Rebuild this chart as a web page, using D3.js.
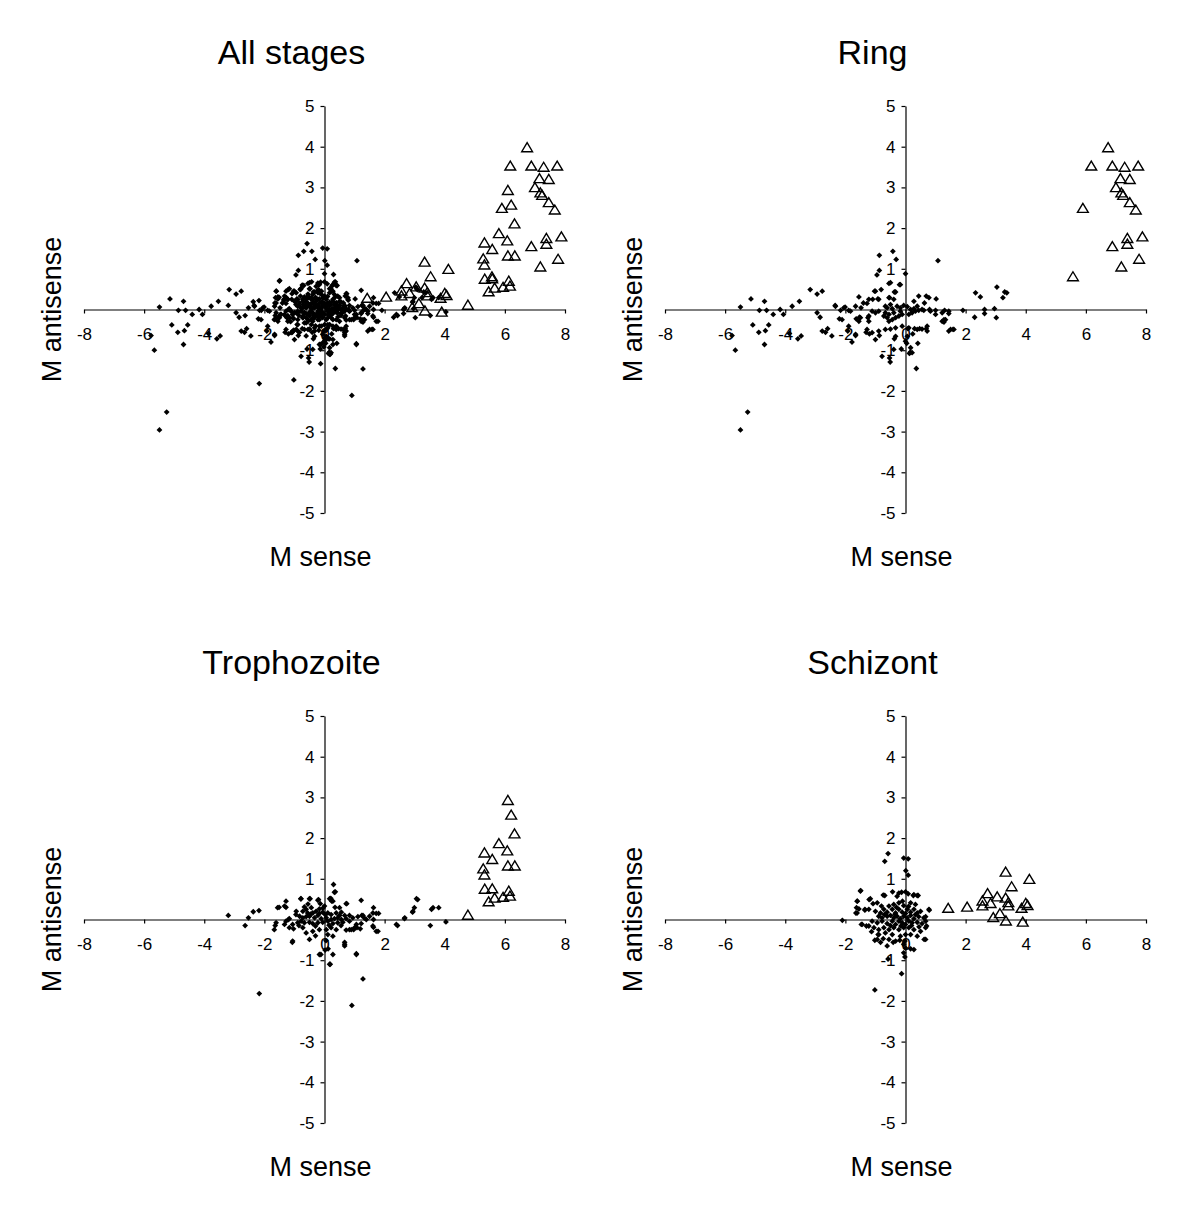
<!DOCTYPE html>
<html lang="en">
<head>
<meta charset="utf-8">
<title>M sense vs M antisense</title>
<script src="https://d3js.org/d3.v7.min.js"></script>
<style>
  body { margin: 0; background: #fff; }
  text { font-family: "Liberation Sans", Arial, Helvetica, sans-serif; fill: #000; }
  .axis text { font-size: 17px; }
  .axis path, .axis line { stroke: #000; stroke-width: 1.2; }
</style>
</head>
<body>
<script>
// ---- data: [M sense, M antisense] ----

const ringDots = [
  [-5.49,0.06],[-5.14,0.26],[-4.69,0.20],[-4.86,-0.02],[-4.62,-0.02],[-4.40,-0.12],[-4.17,0.0],[-4.06,-0.12],
  [-3.77,0.08],[-3.53,0.20],[-5.08,-0.38],[-4.88,-0.56],[-4.66,-0.52],[-4.55,-0.38],[-4.69,-0.86],[-5.66,-1.00],
  [-5.77,-0.64],[-3.86,-0.59],[-3.58,-0.72],[-3.47,-0.65],[-5.25,-2.52],[-5.49,-2.96],[-3.17,0.49],[-2.94,0.38],
  [-2.77,0.45],[-2.94,-0.08],[-2.84,-0.19],[-2.77,-0.53],[-2.66,-0.56],[-2.59,-0.47],[-2.45,-0.65],[-2.34,0.10],
  [-2.20,-0.23],[-2.05,0.04],[-2.01,0.06],[-1.92,-0.53],[-1.78,-0.80],[-1.83,-0.04],[-1.66,-0.64],[-1.64,-0.23],
  [-1.55,0.31],[-1.53,-0.19],[-1.48,0.04],[-1.40,0.16],[-1.31,-0.56],[-1.25,-0.20],[-1.20,-0.60],[-1.09,0.25],
  [-1.03,0.45],[-0.92,0.26],[-0.87,-0.64],[-0.95,0.85],[-0.87,0.96],[-0.87,1.33],[-0.42,1.43],[-0.31,1.23],
  [0.0,0.88],[-0.81,0.49],[-0.55,0.64],[-0.20,0.61],[-0.53,0.29],[-0.37,0.43],[-0.53,-1.19],[-0.51,-1.29],
  [-0.14,-0.97],[-0.37,-0.72],[0.13,-1.08],[0.16,-1.05],[0.36,-1.45],[0.41,-0.83],[0.04,-0.83],[0.08,-0.47],
  [0.24,-0.60],[0.30,-0.47],[0.47,-0.47],[0.69,-0.47],[0.55,0.0],[0.63,0.16],[0.69,0.33],[0.80,0.0],
  [1.08,1.20],[1.02,0.26],[1.30,-0.02],[1.28,-0.25],[1.28,-0.31],[1.44,-0.10],[1.44,-0.53],[1.58,-0.49],
  [1.91,-0.02],[2.30,-0.19],[2.33,0.41],[2.49,0.31],[2.63,0.0],[2.63,-0.10],[2.96,0.02],[3.02,-0.20],
  [3.04,0.55],[3.24,0.29],[3.30,0.43],[3.37,0.41],
  [-0.50,0.66],[-0.17,0.61],[-1.00,0.45],[-0.33,0.43],[-1.22,0.25],[-0.89,0.25],[-0.55,0.29],[-0.39,0.25],
  [0.44,0.33],[0.78,0.29],[0.28,0.20],[-1.28,0.15],[-1.66,0.08],[-1.89,-0.02],[-2.33,0.08],[-2.16,-0.02],
  [-0.67,0.08],[-0.61,0.04],[-0.50,0.12],[-0.44,0.02],[-0.28,0.08],[-0.17,0.04],[-0.06,0.10],[0.06,0.07],
  [0.17,0.00],[0.28,0.02],[0.39,0.08],[0.33,-0.04],[-0.17,-0.04],[-0.39,-0.08],[-0.55,-0.12],[-0.67,-0.08],
  [-0.72,-0.16],[-0.61,-0.20],[-0.55,-0.29],[-0.44,-0.25],[-0.33,-0.20],[-0.22,-0.16],[-0.11,-0.12],[0.11,-0.12],
  [0.22,-0.08],[0.44,-0.02],[0.61,-0.02],[0.83,-0.04],[1.00,-0.02],[-0.89,-0.04],[-1.00,-0.08],[-1.11,-0.04],
  [-1.22,-0.16],[-1.50,-0.20],[-1.55,-0.29],[-1.22,-0.29],[-1.28,-0.49],[-1.11,-0.57],[-0.89,-0.53],[-0.67,-0.49],
  [-0.50,-0.48],[-0.33,-0.45],[-0.11,-0.41],[0.11,-0.45],[0.39,-0.49],[0.55,-0.48],[0.72,-0.41],[0.72,-0.53],
  [0.06,-0.66],[0.00,-0.78],[0.17,-0.94],[0.22,-1.06],[-0.33,-0.66],[-1.00,-0.74],[-1.66,-0.61],[-1.89,-0.41],
  [-2.11,-0.25],[1.22,-0.29],[1.33,-0.25],[1.50,-0.49],[1.61,-0.49],[1.00,-0.12],[1.22,-0.08],[1.44,-0.04],
  [-0.78,-1.15],[-0.39,-0.98]
];
const ringTri = [
  [6.74,3.97],[6.18,3.52],[6.88,3.52],[7.29,3.49],[7.74,3.52],[7.15,3.21],[7.46,3.19],[7.00,2.99],
  [7.18,2.86],[7.24,2.80],[7.46,2.62],[7.66,2.44],[5.90,2.48],[7.38,1.74],[7.88,1.78],[6.88,1.54],
  [7.38,1.60],[7.77,1.23],[7.18,1.04],[5.57,0.80]
];

const trophDots = [
  [-3.20,0.10],[-2.64,-0.15],[-2.53,0.04],[-2.37,0.19],[-2.18,0.22],[-2.17,-1.82],[-1.64,-0.15],[-1.51,0.30],
  [-1.28,0.45],[-1.28,0.30],[-1.20,0.0],[-1.17,-0.20],[-1.07,-0.56],[-1.03,-0.23],[-0.79,0.51],[-0.48,0.51],
  [-0.20,0.49],[-0.14,0.39],[0.30,0.86],[0.36,0.68],[0.21,0.52],[0.24,0.45],[-0.12,-0.86],[0.02,-0.75],
  [0.12,-0.72],[0.28,-0.86],[0.19,-1.10],[0.67,-0.56],[0.67,-0.65],[0.74,0.39],[1.06,-0.86],[0.91,-2.11],
  [1.28,-1.46],[1.22,0.47],[1.24,0.10],[1.32,0.04],[1.63,0.29],[1.63,0.0],[1.80,0.15],[1.63,-0.19],
  [1.78,-0.29],[2.43,-0.15],[2.66,0.02],[2.93,0.18],[2.99,0.29],[3.10,0.49],[3.52,-0.15],[3.56,0.25],
  [3.61,0.29],[3.80,0.29],[4.04,-0.06],[0.83,-0.25],[0.97,-0.25],[1.08,-0.20],[1.19,-0.23],
  [0.33,0.67],[-0.78,0.51],[-0.50,0.51],[-0.22,0.47],[0.17,0.51],[0.28,0.45],[0.72,0.39],[-1.33,0.33],
  [-1.56,0.29],[-0.67,0.31],[-0.44,0.29],[-0.17,0.26],[0.0,0.33],[0.50,0.29],[-0.94,0.20],
  [-0.72,0.20],[-0.61,0.25],[-0.56,0.16],[-0.39,0.16],[-0.28,0.20],[-0.17,0.15],[-0.06,0.18],[0.11,0.16],
  [0.22,0.12],[0.39,0.16],[0.56,0.18],[0.67,0.10],[0.83,0.10],[0.94,0.04],[1.11,0.07],[1.28,0.10],
  [1.50,0.08],[1.61,0.16],[1.72,0.15],[-0.83,0.08],[-0.72,0.04],[-0.61,0.07],[-0.50,0.08],[-0.33,0.04],
  [-0.22,0.10],[-0.11,0.02],[0.06,0.04],[0.22,0.00],[0.33,0.02],[0.44,0.04],[0.56,0.00],[0.72,0.02],
  [-1.17,0.02],[-1.28,-0.04],[-1.33,-0.12],[-1.06,-0.12],[-0.89,-0.08],[-0.78,-0.04],[-0.67,-0.08],[-0.50,-0.07],
  [-0.39,-0.10],[-0.22,-0.08],[-0.06,-0.07],[0.11,-0.04],[0.28,-0.10],[0.44,-0.08],[0.61,-0.07],[0.83,-0.04],
  [1.06,-0.12],[1.22,-0.10],[1.39,0.00],[1.61,-0.16],[1.72,-0.29],[2.39,-0.12],[2.67,0.04],[2.94,0.20],
  [3.06,0.51],[-0.72,-0.20],[-0.61,-0.33],[-0.39,-0.29],[-0.17,-0.25],[0.06,-0.25],[0.22,-0.20],[0.39,-0.25],
  [0.72,-0.26],[0.89,-0.25],[1.00,-0.20],[0.11,-0.37],[0.28,-0.41],[-0.50,-0.49],[-1.06,-0.53],[0.67,-0.61],
  [1.06,-0.84],[0.17,-1.10],[-0.17,-0.86],[-1.61,-0.08],[-1.67,-0.25],
  [-0.95,0.12],[-0.45,0.14],[0.02,0.12],[0.50,0.10],[-0.30,-0.16],[0.15,-0.14],[0.55,-0.15],[-0.85,-0.15],
  [-0.05,0.28],[0.35,0.30],[-0.55,0.38],[0.05,-0.52],[-0.30,-0.40]
];
const trophTri = [
  [6.10,2.92],[6.21,2.56],[6.32,2.10],[5.80,1.86],[6.08,1.68],[5.32,1.63],[5.58,1.47],[5.28,1.24],
  [5.32,1.09],[6.10,1.31],[6.33,1.31],[5.33,0.74],[5.58,0.75],[6.13,0.69],[5.46,0.43],[5.66,0.52],
  [5.94,0.54],[6.17,0.57],[4.77,0.10]
];

const schizDots = [
  [-2.10,-0.02],[-1.49,0.71],[-1.60,0.45],[-1.63,0.29],[-1.65,0.16],[-1.47,-0.12],[-1.21,0.49],[-1.35,0.23],
  [-1.08,0.39],[-0.74,0.60],[-0.43,0.68],[-0.28,0.57],[-0.13,0.67],[0.09,0.63],[0.26,0.59],[0.39,0.59],
  [-0.58,1.62],[-0.69,1.43],[-0.06,1.51],[0.09,1.49],[0.01,1.20],[0.09,1.09],[-1.02,-0.51],[-0.83,-0.56],
  [-0.61,-0.65],[-0.41,-0.56],[-0.19,-0.51],[-0.02,-0.53],[0.17,-0.72],[0.62,-0.49],[0.70,-0.16],[0.79,0.23],
  [0.67,0.07],[-0.58,-0.97],[-0.02,-0.92],[-0.13,-1.33],[-1.02,-1.73],[-1.13,-0.30],[-0.91,-0.37],[-0.74,-0.47],
  [-1.30,-0.16],
  [-1.50,0.70],[-1.17,0.51],[-1.61,0.45],[-0.94,0.41],[-0.69,0.59],[-0.22,0.65],[0.0,0.68],[0.28,0.61],
  [0.42,0.59],[-1.35,0.25],[-1.22,0.25],[-1.55,0.26],[-0.55,0.33],[-0.39,0.37],[-0.22,0.41],[-0.06,0.34],
  [0.17,0.41],[0.33,0.37],[0.78,0.25],[-1.61,0.16],
  [-1.00,0.20],[-0.83,0.16],[-0.72,0.25],[-0.61,0.18],[-0.44,0.25],[-0.33,0.16],[-0.22,0.25],[-0.11,0.18],
  [0.06,0.25],[0.17,0.18],[0.28,0.25],[0.39,0.16],[0.50,0.20],[-0.89,0.08],[-0.78,0.04],[-0.61,0.08],
  [-0.50,0.10],[-0.39,0.04],[-0.28,0.08],[-0.17,0.02],[-0.06,0.08],[0.06,0.04],[0.17,0.10],[0.28,0.02],
  [0.44,0.07],[0.61,0.04],[-1.11,-0.04],[-0.94,-0.08],[-0.78,-0.04],[-0.61,-0.10],[-0.44,-0.04],[-0.33,-0.12],
  [-0.22,-0.04],[-0.11,-0.08],[0.00,-0.12],[0.11,-0.04],[0.22,-0.08],[0.39,-0.07],[0.55,-0.10],[0.67,-0.04],
  [-1.44,-0.12],[-1.22,-0.16],[-1.05,-0.20],[-0.89,-0.25],[-0.72,-0.20],[-0.55,-0.25],[-0.39,-0.20],[-0.22,-0.25],
  [-0.06,-0.20],[0.11,-0.20],[0.28,-0.25],[0.50,-0.29],[0.67,-0.20],[-0.89,-0.37],[-0.67,-0.33],[-0.44,-0.37],
  [-0.17,-0.41],[0.00,-0.37],[0.17,-0.37],[0.39,-0.41],[-0.55,-0.49],[-0.33,-0.53],[-0.06,-0.61],[0.67,-0.49],
  [-0.94,-0.49],[0.28,-0.74],[0.00,-0.70],[-0.06,-0.82],
  [-0.70,0.12],[-0.35,0.13],[0.00,0.15],[0.33,0.12],[-0.50,-0.15],[-0.15,-0.16],[0.20,-0.15],[-0.80,0.33],
  [-0.10,0.45],[0.45,-0.18],[-0.30,0.30],[0.10,0.32]
];
const schizTri = [
  [3.33,1.16],[4.12,0.98],[3.53,0.80],[2.73,0.63],[3.05,0.55],[3.33,0.52],[2.56,0.45],[3.42,0.41],
  [2.83,0.39],[4.00,0.39],[4.06,0.34],[2.56,0.33],[3.42,0.33],[3.86,0.27],[1.42,0.27],[2.05,0.30],
  [3.14,0.14],[2.92,0.04],[3.34,-0.04],[3.90,-0.07]
];

const panelTitles = ["All stages", "Ring", "Trophozoite", "Schizont"];
const xTicks = [-8, -6, -4, -2, 0, 2, 4, 6, 8];
const yTicks = [-5, -4, -3, -2, -1, 1, 2, 3, 4, 5];

// All stages is the three stages pooled together
const panels = [
  { title: panelTitles[0], dots: ringDots.concat(trophDots, schizDots), tri: ringTri.concat(trophTri, schizTri) },
  { title: panelTitles[1], dots: ringDots, tri: ringTri },
  { title: panelTitles[2], dots: trophDots, tri: trophTri },
  { title: panelTitles[3], dots: schizDots, tri: schizTri }
];

const width = 1200;
const height = 1210;
const colX = [84, 665];     // left end of x axis
const rowY = [106, 716];    // top end of y axis
const plotW = 481;
const plotH = 407;

const svg = d3.select("body")
  .append("svg")
  .attr("width", width)
  .attr("height", height);

const diamond = "M0,-2.9L2.9,0L0,2.9L-2.9,0Z";
const triangle = "M0,-5.2L5.4,3.8L-5.4,3.8Z";

panels.forEach((p, i) => {
  const ox = colX[i % 2];
  const oy = rowY[Math.floor(i / 2)];

  const x = d3.scaleLinear().domain([-8, 8]).range([ox, ox + plotW]);
  const y = d3.scaleLinear().domain([-5, 5]).range([oy + plotH, oy]);

  const g = svg.append("g");

  // axes cross at the origin; plain hyphen for negatives like the original
  g.append("g")
    .attr("class", "axis")
    .attr("transform", "translate(0," + y(0) + ")")
    .call(d3.axisBottom(x).tickValues(xTicks).tickSize(4).tickSizeOuter(0).tickPadding(14).tickFormat(d => String(d)));

  g.append("g")
    .attr("class", "axis")
    .attr("transform", "translate(" + x(0) + ",0)")
    .call(d3.axisLeft(y).tickValues(yTicks).tickSize(4).tickSizeOuter(0).tickPadding(6).tickFormat(d => String(d)));

  g.selectAll("text").attr("font-family", null);

  // points
  g.selectAll(".dot")
    .data(p.dots)
    .enter()
    .append("path")
    .attr("class", "dot")
    .attr("d", diamond)
    .attr("transform", d => "translate(" + x(d[0]) + "," + y(d[1]) + ")")
    .attr("fill", "#000");

  g.selectAll(".tri")
    .data(p.tri)
    .enter()
    .append("path")
    .attr("class", "tri")
    .attr("d", triangle)
    .attr("transform", d => "translate(" + x(d[0]) + "," + y(d[1]) + ")")
    .attr("fill", "none")
    .attr("stroke", "#000")
    .attr("stroke-width", 1.4);

  // title
  g.append("text")
    .attr("x", x(0) - 33)
    .attr("y", oy - 42)
    .attr("text-anchor", "middle")
    .attr("font-size", "34px")
    .text(p.title);

  // axis titles
  g.append("text")
    .attr("x", x(0) - 4)
    .attr("y", oy + plotH + 53)
    .attr("text-anchor", "middle")
    .attr("font-size", "27px")
    .text("M sense");

  g.append("text")
    .attr("transform", "translate(" + (ox - 23) + "," + y(0) + ") rotate(-90)")
    .attr("text-anchor", "middle")
    .attr("font-size", "27px")
    .text("M antisense");
});
</script>
</body>
</html>
